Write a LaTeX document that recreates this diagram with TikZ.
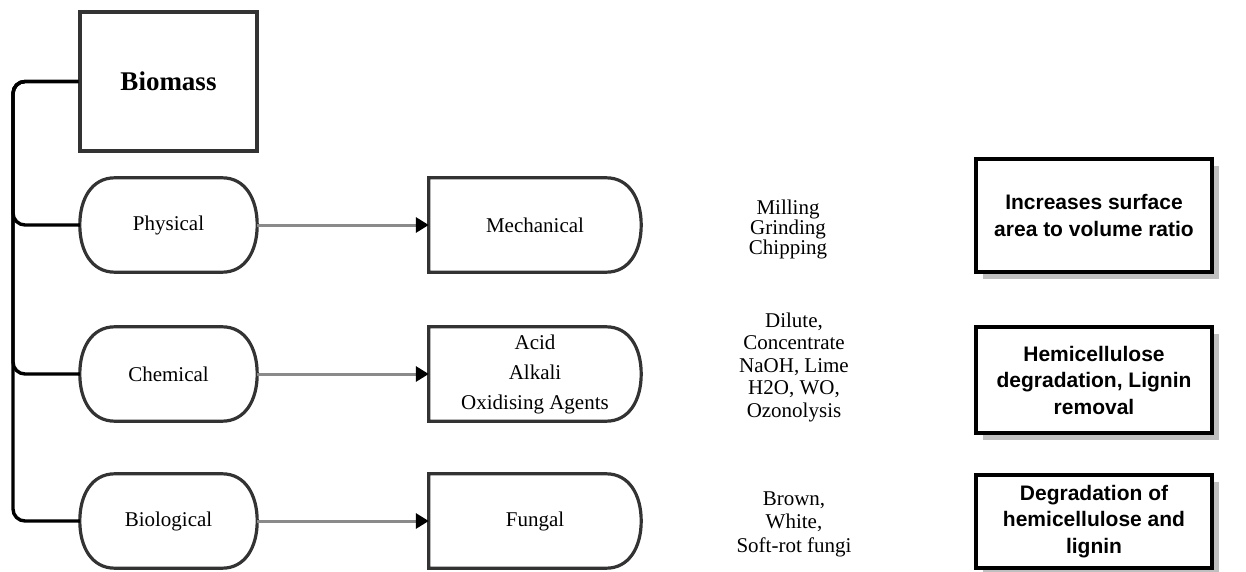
\documentclass[tikz,border=0pt]{standalone}
\usepackage{fontspec}
\setmainfont{Liberation Serif}
\newfontfamily\boxsans{Liberation Sans}
\usetikzlibrary{arrows.meta,shadows}
\definecolor{edge}{HTML}{333333}
\definecolor{arrowgrey}{HTML}{8A8A8A}
\tikzset{
  outline/.style={draw=edge, line width=3.2pt},
  pill/.style={rectangle, minimum width=177pt, minimum height=94pt, inner sep=0pt,
    align=center, font=\fontsize{21}{23}\selectfont},
  dbox/.style={rectangle, minimum width=212pt, minimum height=94pt,
    inner sep=0pt, align=center},
  rbox/.style={draw=black, line width=3.2pt, fill=white, minimum width=236pt,
    inner sep=0pt, align=center,
    font=\boxsans\bfseries\fontsize{21}{26.5}\selectfont,
    drop shadow={shadow xshift=7pt, shadow yshift=-7pt, fill=gray!50, opacity=1}},
  plain/.style={align=center, inner sep=0pt},
  tree/.style={line width=3.4pt, black, rounded corners=12pt},
  flow/.style={line width=3pt, arrowgrey, -{Triangle[length=13pt,width=15pt,black]}}
}
\newcommand\rightcap[1]{%
  .. controls ([xshift=-12pt]#1.north east) and ([yshift=-21pt]#1.north east) .. (#1.east)
  .. controls ([yshift=21pt]#1.south east) and ([xshift=-12pt]#1.south east) .. ([xshift=-35pt]#1.south east)}
\newcommand\drawpill[1]{%
  \draw[outline] ([xshift=35pt]#1.north west) -- ([xshift=-35pt]#1.north east)
    \rightcap{#1}
    -- ([xshift=35pt]#1.south west)
    .. controls ([xshift=12pt]#1.south west) and ([yshift=21pt]#1.south west) .. (#1.west)
    .. controls ([yshift=-21pt]#1.north west) and ([xshift=12pt]#1.north west) .. ([xshift=35pt]#1.north west)
    -- cycle;}
\newcommand\drawdbox[1]{%
  \draw[outline] (#1.north west) -- ([xshift=-35pt]#1.north east)
    \rightcap{#1}
    -- (#1.south west) -- cycle;}
\begin{document}
\begin{tikzpicture}[x=1pt,y=-1pt]
\useasboundingbox (0,0) rectangle (1246,572);
\node[outline, minimum width=177pt, minimum height=139pt,
  font=\bfseries\fontsize{27}{30}\selectfont] (bio) at (168.5,81.5) {Biomass};
\node[pill] (phy) at (168.5,225) {Physical};
\node[pill] (che) at (168.5,374) {Chemical};
\node[pill] (bil) at (168.5,521) {Biological};
\drawpill{phy}\drawpill{che}\drawpill{bil}
\coordinate (trunk) at (13,81.5);
\draw[tree] (bio.west) -| (trunk |- phy.west) -- (phy.west);
\draw[tree] (bio.west) -| (trunk |- che.west) -- (che.west);
\draw[tree] (bio.west) -| (trunk |- bil.west) -- (bil.west);
\node[dbox, font=\fontsize{21}{23}\selectfont] (mec) at (535,225) {Mechanical};
\node[dbox, font=\fontsize{21}{30}\selectfont] (aci) at (535,374) {Acid\\Alkali\\Oxidising Agents};
\node[dbox, font=\fontsize{21}{23}\selectfont] (fun) at (535,521) {Fungal};
\drawdbox{mec}\drawdbox{aci}\drawdbox{fun}
\draw[flow] (phy.east) -- (mec.west);
\draw[flow] (che.east) -- (aci.west);
\draw[flow] (bil.east) -- (fun.west);
\node[plain, font=\fontsize{21}{20}\selectfont] (t1) at (788,229) {Milling\\Grinding\\Chipping};
\node[plain, font=\fontsize{21}{22.5}\selectfont] (t2) at (794,367) {Dilute,\\Concentrate\\NaOH, Lime\\H2O, WO,\\Ozonolysis};
\node[plain, font=\fontsize{21}{23.5}\selectfont] (t3) at (794,524) {Brown,\\White,\\Soft-rot fungi};
\node[rbox, minimum height=113pt] (r1) at (1094,215.5) {Increases surface\\area to volume ratio};
\node[rbox, minimum height=106pt] (r2) at (1094,380) {Hemicellulose\\degradation, Lignin\\removal};
\node[rbox, minimum height=93pt] (r3) at (1094,521.5) {Degradation of\\hemicellulose and\\lignin};
\end{tikzpicture}
\end{document}
